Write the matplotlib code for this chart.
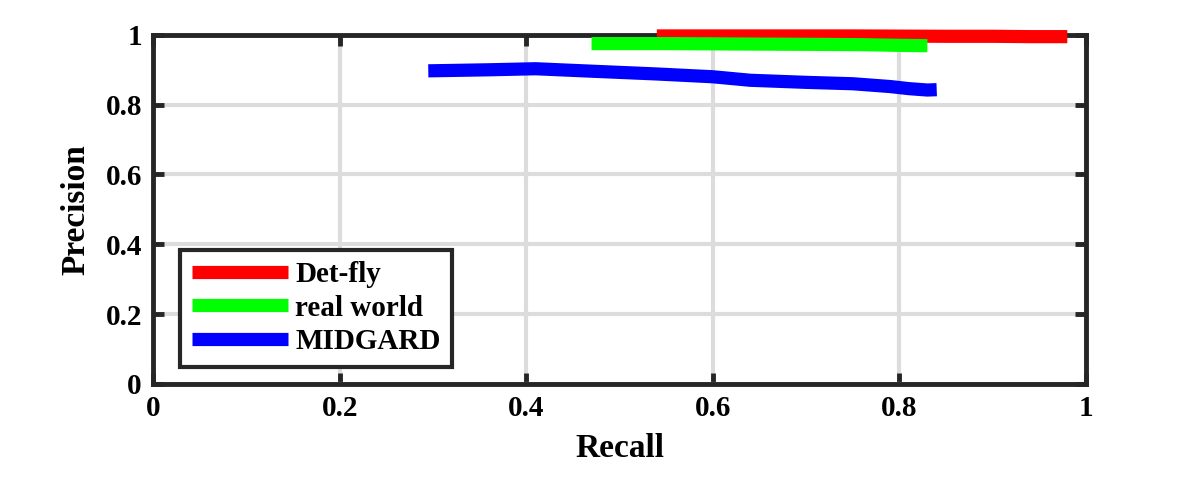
import numpy as np
import matplotlib
matplotlib.use('Agg')
import matplotlib.pyplot as plt

# data
detfly_recall = [0.54, 0.65, 0.75, 0.85, 0.90, 0.94, 0.98]
detfly_prec = [0.997, 0.997, 0.997, 0.996, 0.996, 0.995, 0.995]

real_recall = [0.47, 0.55, 0.62, 0.70, 0.76, 0.80, 0.83]
real_prec = [0.975, 0.975, 0.974, 0.973, 0.972, 0.970, 0.969]

mid_recall = [0.295, 0.36, 0.41, 0.47, 0.54, 0.60, 0.64, 0.70, 0.75, 0.79, 0.81, 0.83, 0.84]
mid_prec = [0.897, 0.900, 0.903, 0.896, 0.888, 0.880, 0.870, 0.864, 0.860, 0.852, 0.846, 0.842, 0.843]

ticks = [0, 0.2, 0.4, 0.6, 0.8, 1]
tick_labels = ['0', '0.2', '0.4', '0.6', '0.8', '1']

plt.rcParams['font.family'] = ['Liberation Serif', 'DejaVu Serif']
plt.rcParams['font.weight'] = 'bold'

fig = plt.figure(figsize=(11.96, 4.78), dpi=100)
ax = fig.add_axes([0.128, 0.197, 0.780, 0.730])

lw = 9.5
ax.plot(detfly_recall, detfly_prec, color='#ff0000', lw=lw, label='Det-fly',
        solid_capstyle='butt', clip_on=False, zorder=3)
ax.plot(real_recall, real_prec, color='#00ff00', lw=lw, label='real world',
        solid_capstyle='butt', clip_on=False, zorder=3)
ax.plot(mid_recall, mid_prec, color='#0000ff', lw=lw, label='MIDGARD',
        solid_capstyle='butt', clip_on=False, zorder=3)

ax.set_xlim(0, 1)
ax.set_ylim(0, 1)
ax.set_xticks(ticks)
ax.set_xticklabels(tick_labels)
ax.set_yticks(ticks)
ax.set_yticklabels(tick_labels)

ax.grid(True, color='#dcdcdc', lw=3)
ax.set_axisbelow(True)

for s in ax.spines.values():
    s.set_linewidth(3.5)
    s.set_color('#262626')

ax.tick_params(direction='in', length=8, width=3.5, color='#262626',
               labelsize=21, top=True, right=True, pad=8)
for lab in ax.get_xticklabels() + ax.get_yticklabels():
    lab.set_fontweight('bold')

ax.set_xlabel('Recall', fontsize=24, fontweight='bold', labelpad=8)
ax.set_ylabel('Precision', fontsize=24, fontweight='bold', labelpad=10)

leg = ax.legend(loc='lower left', bbox_to_anchor=(0.029, 0.049), borderaxespad=0,
                handlelength=3.3, handletextpad=0.25,
                labelspacing=0.22, borderpad=0.4, fancybox=False, framealpha=1,
                prop={'weight': 'bold', 'size': 21})
leg.get_frame().set_edgecolor('#262626')
leg.get_frame().set_linewidth(3)

plt.savefig('out.png', dpi=100)
